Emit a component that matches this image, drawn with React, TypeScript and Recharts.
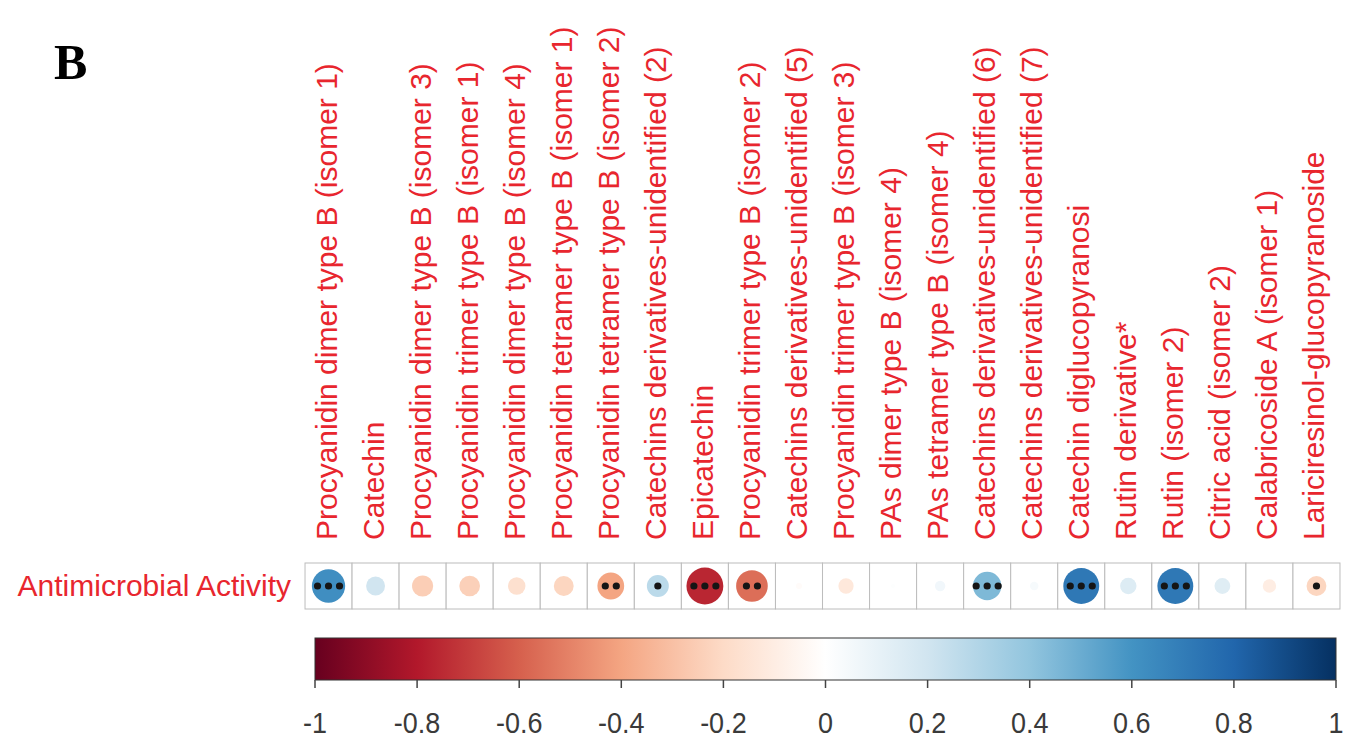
import React from "react";
import {
  ScatterChart,
  Scatter,
  XAxis,
  YAxis,
  ReferenceArea,
} from "recharts";

const COMPOUNDS = [
  "Procyanidin dimer type B (isomer 1)",
  "Catechin",
  "Procyanidin dimer type B (isomer 3)",
  "Procyanidin trimer type B (isomer 1)",
  "Procyanidin dimer type B (isomer 4)",
  "Procyanidin tetramer type B (isomer 1)",
  "Procyanidin tetramer type B (isomer 2)",
  "Catechins derivatives-unidentified (2)",
  "Epicatechin",
  "Procyanidin trimer type B (isomer 2)",
  "Catechins derivatives-unidentified (5)",
  "Procyanidin trimer type B (isomer 3)",
  "PAs dimer type B (isomer 4)",
  "PAs tetramer type B (isomer 4)",
  "Catechins derivatives-unidentified (6)",
  "Catechins derivatives-unidentified (7)",
  "Catechin diglucopyranosi",
  "Rutin derivative*",
  "Rutin (isomer 2)",
  "Citric acid (isomer 2)",
  "Calabricoside A (isomer 1)",
  "Lariciresinol-glucopyranoside",
];

const ROW_LABEL = "Antimicrobial Activity";

// correlation with antimicrobial activity
const CORR = [
  0.62, 0.2, -0.25, -0.24, -0.17, -0.22, -0.4, 0.27, -0.76, -0.56, -0.02,
  -0.13, 0.01, 0.06, 0.45, 0.04, 0.72, 0.15, 0.72, 0.14, -0.1, -0.22,
];

// number of significance marks per cell
const SIG = [3, 0, 0, 0, 0, 0, 2, 1, 3, 2, 0, 0, 0, 0, 3, 0, 3, 0, 3, 0, 0, 1];

const COLORBAR_TICKS = [-1, -0.8, -0.6, -0.4, -0.2, 0, 0.2, 0.4, 0.6, 0.8, 1];

// RdBu palette from -1 to 1
const RDBU = [
  "#67001F",
  "#B2182B",
  "#D6604D",
  "#F4A582",
  "#FDDBC7",
  "#FFFFFF",
  "#D1E5F0",
  "#92C5DE",
  "#4393C3",
  "#2166AC",
  "#053061",
];

const CELL = 47;
const RED = "#e8262e";
const FONT = "'Liberation Sans', Arial, sans-serif";

const hexToRgb = (h: string) => [
  parseInt(h.slice(1, 3), 16),
  parseInt(h.slice(3, 5), 16),
  parseInt(h.slice(5, 7), 16),
];

function corrColor(v: number) {
  const t = ((v + 1) / 2) * (RDBU.length - 1);
  const i = Math.min(Math.floor(t), RDBU.length - 2);
  const f = t - i;
  const a = hexToRgb(RDBU[i]);
  const b = hexToRgb(RDBU[i + 1]);
  const c = a.map((x, k) => Math.round(x + (b[k] - x) * f));
  return `rgb(${c[0]},${c[1]},${c[2]})`;
}

const cells = COMPOUNDS.map((name, i) => ({
  x: i,
  y: 0.5,
  name,
  r: CORR[i],
  sig: SIG[i],
}));

const barTicks = COLORBAR_TICKS.map((v) => ({ x: v, y: 0.5 }));

const CellShape = (props: any) => {
  const { cx, cy, payload } = props;
  const rad = CELL * 0.45 * Math.sqrt(Math.abs(payload.r));
  const dots = [];
  for (let k = 0; k < payload.sig; k++) {
    const off = (k - (payload.sig - 1) / 2) * 11;
    dots.push(<circle key={k} cx={cx + off} cy={cy} r={3.6} fill="#151515" />);
  }
  return (
    <g>
      <rect
        x={cx - CELL / 2}
        y={cy - 23}
        width={CELL}
        height={46}
        fill="#fff"
        stroke="#bcbcbc"
        strokeWidth={1}
      />
      <circle cx={cx} cy={cy} r={rad} fill={corrColor(payload.r)} />
      {dots}
    </g>
  );
};

const CompoundTick = (props: any) => {
  const { x, payload } = props;
  const tx = x + 8;
  const ty = 540;
  return (
    <text
      x={tx}
      y={ty}
      transform={`rotate(-90 ${tx} ${ty})`}
      textAnchor="start"
      fill={RED}
      fontSize={30}
      fontFamily={FONT}
    >
      {COMPOUNDS[payload.value]}
    </text>
  );
};

const RowTick = (props: any) => {
  const { y } = props;
  return (
    <text
      x={291}
      y={y + 10}
      textAnchor="end"
      fill={RED}
      fontSize={30}
      fontFamily={FONT}
    >
      {ROW_LABEL}
    </text>
  );
};

const ColorTick = (props: any) => {
  const { x, payload } = props;
  const base = 118;
  return (
    <text
      x={x}
      y={base}
      textAnchor="middle"
      fill="#3a3a3a"
      fontSize={27}
      fontFamily={FONT}
      transform={`translate(0 ${-base * 0.12}) scale(1 1.12)`}
    >
      {payload.value}
    </text>
  );
};

const ColorBarShape = (props: any) => {
  const { x, y, width, height } = props;
  return (
    <g>
      <defs>
        <linearGradient id="rdbu" x1="0" y1="0" x2="1" y2="0">
          {RDBU.map((c, i) => (
            <stop
              key={i}
              offset={`${(i / (RDBU.length - 1)) * 100}%`}
              stopColor={c}
            />
          ))}
        </linearGradient>
      </defs>
      <rect
        x={x}
        y={y}
        width={width}
        height={height}
        fill="url(#rdbu)"
        stroke="#333"
        strokeWidth={1}
      />
    </g>
  );
};

const NoShape = () => <g />;

export default function App() {
  return (
    <div
      style={{
        position: "absolute",
        left: 0,
        top: 0,
        width: 1345,
        height: 742,
        background: "#fff",
        overflow: "hidden",
      }}
    >
      <div
        style={{
          position: "absolute",
          left: 54,
          top: 37,
          fontFamily: "'Liberation Serif', 'Times New Roman', serif",
          fontWeight: "bold",
          fontSize: 50,
          lineHeight: 1,
          color: "#000",
        }}
      >
        B
      </div>

      <ScatterChart
        width={1345}
        height={615}
        margin={{ top: 0, right: 5, bottom: 0, left: 0 }}
        style={{ position: "absolute", left: 0, top: 0 }}
      >
        <XAxis
          type="number"
          dataKey="x"
          orientation="top"
          domain={[-0.5, COMPOUNDS.length - 0.5]}
          ticks={COMPOUNDS.map((_, i) => i)}
          height={557}
          axisLine={false}
          tickLine={false}
          tick={<CompoundTick />}
          interval={0}
        />
        <YAxis
          type="number"
          dataKey="y"
          domain={[0, 1]}
          ticks={[0.5]}
          width={305}
          axisLine={false}
          tickLine={false}
          tick={<RowTick />}
        />
        <Scatter data={cells} shape={<CellShape />} isAnimationActive={false} />
      </ScatterChart>

      <ScatterChart
        width={1345}
        height={127}
        margin={{ top: 23, right: 9, bottom: 0, left: 315 }}
        style={{ position: "absolute", left: 0, top: 615 }}
      >
        <XAxis
          type="number"
          dataKey="x"
          domain={[-1, 1]}
          ticks={COLORBAR_TICKS}
          interval={0}
          height={62}
          axisLine={false}
          tickLine={{ stroke: "#444", strokeWidth: 1.5 }}
          tickSize={8}
          tick={<ColorTick />}
        />
        <YAxis type="number" dataKey="y" domain={[0, 1]} hide />
        <ReferenceArea
          x1={-1}
          x2={1}
          y1={0}
          y2={1}
          shape={<ColorBarShape />}
          ifOverflow="visible"
        />
        <Scatter data={barTicks} shape={<NoShape />} isAnimationActive={false} />
      </ScatterChart>
    </div>
  );
}
